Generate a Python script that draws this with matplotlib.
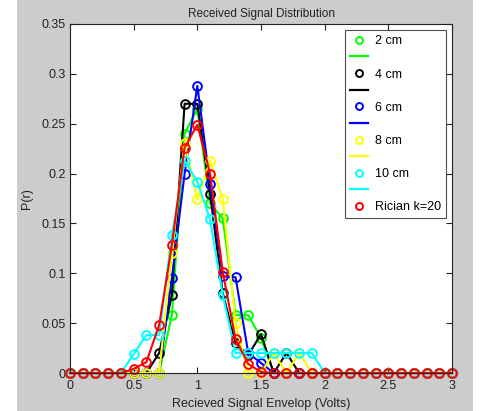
import matplotlib
matplotlib.use("Agg")
from matplotlib import pyplot as plt, patches
from matplotlib.lines import Line2D
from matplotlib.ticker import FuncFormatter
import numpy as np

plt.rcParams['font.family'] = ['Liberation Sans', 'DejaVu Sans']

envelope = np.round(np.arange(0, 3.01, 0.1), 1)

labels = ['2 cm', '4 cm', '6 cm', '8 cm', '10 cm', 'Rician k=20']
colors = ['#00ff00', 'black', 'blue', '#ffff00', '#00ffff', 'red']

p_2cm = [0, 0, 0, 0, 0, 0, 0, 0, 0.058, 0.24, 0.265, 0.17, 0.155, 0.058, 0.058,
         0.035, 0, 0, 0, 0, 0, 0, 0, 0, 0, 0, 0, 0, 0, 0, 0]
p_4cm = [0, 0, 0, 0, 0, 0, 0, 0.02, 0.078, 0.27, 0.27, 0.18, 0.08, 0.03, 0.018,
         0.039, 0, 0.02, 0, 0, 0, 0, 0, 0, 0, 0, 0, 0, 0, 0, 0]
p_6cm = [0, 0, 0, 0, 0, 0, 0, 0, 0.095, 0.2, 0.288, 0.19, 0.097, 0.096, 0.02,
         0.01, 0, 0, 0, 0, 0, 0, 0, 0, 0, 0, 0, 0, 0, 0, 0]
p_8cm = [0, 0, 0, 0, 0, 0, 0, 0, 0.12, 0.231, 0.174, 0.213, 0.174, 0.05, 0,
         0, 0.02, 0, 0.02, 0, 0, 0, 0, 0, 0, 0, 0, 0, 0, 0, 0]
p_10cm = [0, 0, 0, 0, 0, 0.019, 0.038, 0.038, 0.138, 0.213, 0.192, 0.154, 0.078, 0.02, 0.02,
          0.02, 0.02, 0.02, 0.02, 0.02, 0, 0, 0, 0, 0, 0, 0, 0, 0, 0, 0]
p_rician = [0, 0, 0, 0, 0, 0.004, 0.011, 0.048, 0.128, 0.226, 0.249, 0.2, 0.101, 0.034, 0.009,
            0.001, 0, 0, 0, 0, 0, 0, 0, 0, 0, 0, 0, 0, 0, 0, 0]

series = [p_2cm, p_4cm, p_6cm, p_8cm, p_10cm, p_rician]

fig = plt.figure(figsize=(4.79, 4.11), dpi=100, facecolor='white')
# grey window panel behind the axes
fig.patches.append(patches.Rectangle((17 / 479, 0), 456 / 479, 1, transform=fig.transFigure,
                                     facecolor='#cccccc', edgecolor='none', zorder=-10))

ax = fig.add_axes([70 / 479, 38 / 411, 382 / 479, 349 / 411])
ax.set_facecolor('white')

for vals, col in zip(series, colors):
    ax.plot(envelope, vals, color=col, lw=1.5, marker='o', markersize=6.3,
            markerfacecolor='none', markeredgewidth=1.4, clip_on=False)

ax.set_xlim(0, 3)
ax.set_ylim(0, 0.35)
ax.set_xticks(np.arange(0, 3.01, 0.5))
ax.set_yticks(np.arange(0, 0.351, 0.05))
fmt = FuncFormatter(lambda v, pos: '%g' % round(v, 3))
ax.xaxis.set_major_formatter(fmt)
ax.yaxis.set_major_formatter(fmt)
ax.tick_params(direction='in', length=4, width=0.8, top=True, right=True,
               labelsize=9, colors='#222222', pad=3)
ax.tick_params(axis='x', pad=5)
for sp in ax.spines.values():
    sp.set_linewidth(0.8)
    sp.set_color('#222222')

ax.set_title('Received Signal Distribution', fontsize=8.5, pad=5, color='#222222')
ax.set_xlabel('Recieved Signal Envelop (Volts)', fontsize=9, labelpad=4, color='#222222')
ax.set_ylabel('P(r)', fontsize=9, labelpad=6, color='#222222')

# legend: marker on one row, line sample on the row below
handles = []
names = []
for lab, col in zip(labels, colors):
    handles.append(Line2D([], [], color=col, marker='o', linestyle='none', markersize=5,
                          markerfacecolor='none', markeredgewidth=1.4))
    names.append(lab)
    if lab != labels[-1]:
        handles.append(Line2D([], [], color=col, lw=1.6))
        names.append('')
leg = ax.legend(handles, names, loc='upper right', fontsize=9, frameon=True, fancybox=False,
                handlelength=1.5, handletextpad=0.5, labelspacing=0.37, borderpad=0.4,
                borderaxespad=0.5)
leg.get_frame().set_edgecolor('#222222')
leg.get_frame().set_linewidth(0.8)

fig.savefig('out.png', dpi=100, facecolor=fig.get_facecolor())
